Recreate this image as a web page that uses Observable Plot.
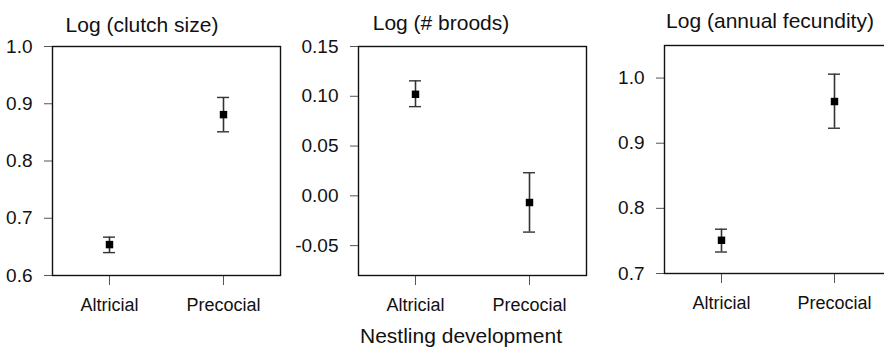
<!DOCTYPE html>
<html>
<head>
<meta charset="utf-8">
<script src="https://cdn.jsdelivr.net/npm/d3@7"></script>
<script src="https://cdn.jsdelivr.net/npm/@observablehq/plot@0.6"></script>
<style>
  html, body { margin: 0; padding: 0; background: #fff; overflow: hidden; }
  #wrap { position: relative; width: 884px; height: 355px; overflow: hidden; font-family: "Liberation Sans", Arial, sans-serif; color: #111; }
  .panel { position: absolute; top: 0; }
  .panel svg { max-width: none !important; }
  .title { position: absolute; font-size: 21px; line-height: 21px; white-space: nowrap; transform: translateX(-50%); }
</style>
</head>
<body>
<div id="wrap"></div>
<script>
// ---- data ----
const categories = ["Altricial", "Precocial"];

const clutchMean = [0.654, 0.881];
const clutchLo   = [0.640, 0.851];
const clutchHi   = [0.667, 0.911];
const clutchTicks = [0.6, 0.7, 0.8, 0.9, 1.0];
const clutchDomain = [0.6, 1.0];

const broodsMean = [0.102, -0.0067];
const broodsLo   = [0.0896, -0.0364];
const broodsHi   = [0.1155, 0.0232];
const broodsTicks = [-0.05, 0.00, 0.05, 0.10, 0.15];
const broodsDomain = [-0.08, 0.15];

const fecMean = [0.751, 0.964];
const fecLo   = [0.733, 0.923];
const fecHi   = [0.768, 1.006];
const fecTicks = [0.7, 0.8, 0.9, 1.0];
const fecDomain = [0.7, 1.05];

const titles = ["Log (clutch size)", "Log (# broods)", "Log (annual fecundity)"];
const xLabel = "Nestling development";

// ---- layout ----
const wrap = document.getElementById("wrap");

function panel({left, width, height, mL, mR, mT, mB, mean, lo, hi, ticks, domain, digits}) {
  const W = width - mL - mR;
  const capW = 12;
  const pi = 1 - (2 * capW) / W;
  const rows = categories.map((c, i) => ({cat: c, mean: mean[i], lo: lo[i], hi: hi[i]}));
  const svg = Plot.plot({
    width, height,
    marginLeft: mL, marginRight: mR, marginTop: mT, marginBottom: mB,
    style: {fontSize: "18px", fontFamily: "Liberation Sans, Arial, sans-serif", color: "#111", background: "transparent", overflow: "visible"},
    x: {type: "band", domain: categories, paddingInner: pi, paddingOuter: pi / 2, label: null},
    y: {domain, label: null},
    marks: [
      Plot.axisY({ticks, tickFormat: d => d.toFixed(digits), tickSize: 8, tickPadding: 12, fontSize: 19, stroke: "#555", fill: "#111", label: null}),
      Plot.axisX({tickSize: 10, tickPadding: 13, fontSize: 18, stroke: "#555", fill: "#111", label: null}),
      Plot.frame({stroke: "#111", strokeWidth: 1.4}),
      Plot.ruleX(rows, {x: "cat", y1: "lo", y2: "hi", stroke: "#333", strokeWidth: 1.6}),
      Plot.tickY(rows, {x: "cat", y: "hi", stroke: "#333", strokeWidth: 1.4}),
      Plot.tickY(rows, {x: "cat", y: "lo", stroke: "#333", strokeWidth: 1.4}),
      Plot.dot(rows, {x: "cat", y: "mean", symbol: "square", r: 4.2, fill: "#000", stroke: "none"})
    ]
  });
  const d = document.createElement("div");
  d.className = "panel";
  d.style.left = left + "px";
  d.style.width = width + "px";
  d.appendChild(svg);
  wrap.appendChild(d);
}

panel({left: 0, width: 290, height: 320, mL: 52, mR: 10, mT: 46, mB: 45,
  mean: clutchMean, lo: clutchLo, hi: clutchHi, ticks: clutchTicks, domain: clutchDomain, digits: 1});
panel({left: 300, width: 295, height: 320, mL: 58, mR: 9, mT: 46, mB: 45,
  mean: broodsMean, lo: broodsLo, hi: broodsHi, ticks: broodsTicks, domain: broodsDomain, digits: 2});
panel({left: 600, width: 300, height: 320, mL: 64, mR: 9, mT: 45, mB: 47,
  mean: fecMean, lo: fecLo, hi: fecHi, ticks: fecTicks, domain: fecDomain, digits: 1});

const titlePos = [[142, 14], [441, 12], [770, 10]];
titles.forEach((t, i) => {
  const s = document.createElement("div");
  s.className = "title";
  s.textContent = t;
  s.style.left = titlePos[i][0] + "px";
  s.style.top = titlePos[i][1] + "px";
  wrap.appendChild(s);
});
const xl = document.createElement("div");
xl.className = "title";
xl.textContent = xLabel;
xl.style.left = "461px";
xl.style.top = "325px";
wrap.appendChild(xl);
</script>
</body>
</html>
